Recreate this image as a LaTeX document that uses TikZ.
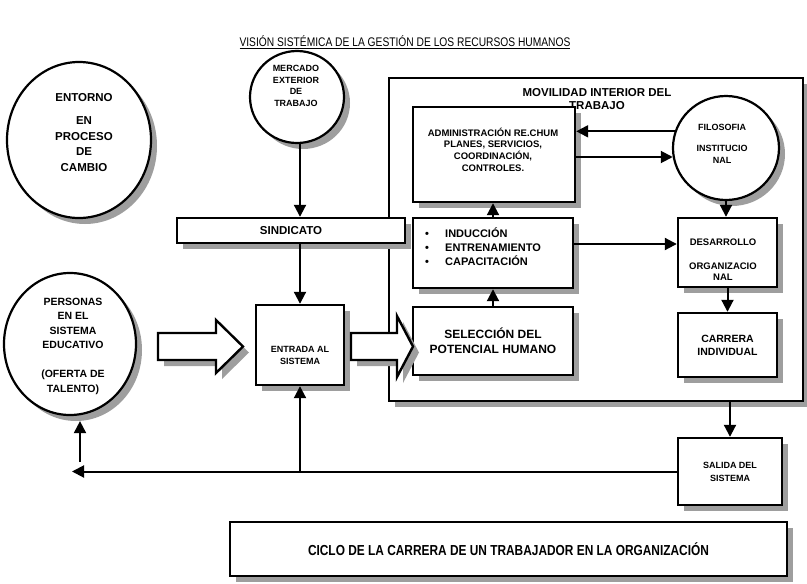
\documentclass[tikz,border=0pt]{standalone}
\usepackage{fontspec}
\setmainfont{Liberation Sans}
\newfontfamily\narrowfont{Liberation Sans}[FakeStretch=0.82]
\usetikzlibrary{arrows.meta,shapes.geometric}
\newcommand\fsz[2]{\fontsize{#1}{#2}\selectfont}
\tikzset{
  drop/.style={preaction={fill=black!38, transform canvas={xshift=6pt,yshift=-6pt}}},
  box/.style={draw, line width=2.4pt, fill=white, drop, inner sep=0pt, align=center},
  orb/.style={ellipse, draw, line width=2.2pt, fill=white, drop, inner sep=0pt},
  arr/.style={line width=2pt, -{Triangle[length=12pt,width=12pt]}},
  blockarrow/.style={draw, line width=2.4pt, fill=white, drop, line join=miter},
  txt/.style={align=center, inner sep=0pt},
}
\begin{document}
\begin{tikzpicture}[x=1pt,y=-1pt]
\useasboundingbox (0,0) rectangle (807,584);

% heading
\node[txt, font=\narrowfont\fsz{12.5}{14}] (title) at (405,42)
  {\underline{VISIÓN SISTÉMICA DE LA GESTIÓN DE LOS RECURSOS HUMANOS}};

% internal mobility frame
\node[box, minimum width=414pt, minimum height=323pt] (mov) at (596,239.5) {};
\node[txt, font=\bfseries\fsz{11.5}{12.5}] (movT) at (597,99) {MOVILIDAD INTERIOR DEL\\TRABAJO};

\node[box, minimum width=162pt, minimum height=95pt] (adm) at (494,154.5) {};
\node[txt, font=\bfseries\fsz{9.5}{11.7}] (admT) at (493,149.5)
  {ADMINISTRACIÓN RE.CHUM\\PLANES, SERVICIOS,\\COORDINACIÓN,\\CONTROLES.};

\node[box, minimum width=160pt, minimum height=70pt] (ind) at (493,253) {};
\node[txt, align=left, anchor=west, font=\bfseries\fsz{11}{14}] (indT) at (425,247)
  {\makebox[20pt][l]{\textbullet}INDUCCIÓN\\
   \makebox[20pt][l]{\textbullet}ENTRENAMIENTO\\
   \makebox[20pt][l]{\textbullet}CAPACITACIÓN};

\node[box, minimum width=160pt, minimum height=68pt, font=\bfseries\fsz{12}{15}] (sel) at (493,341)
  {SELECCIÓN DEL\\POTENCIAL HUMANO};

\node[orb, minimum width=106pt, minimum height=104pt] (filo) at (726,148) {};
\node[txt, font=\bfseries\fsz{9}{12}] (filoT) at (722,143.5) {FILOSOFIA\\[9pt]INSTITUCIO\\NAL};

\node[box, minimum width=99pt, minimum height=69pt] (des) at (727.5,252.5) {};
\node[txt, font=\bfseries\fsz{9.5}{11}] (desT) at (723,260) {DESARROLLO\\[13pt]ORGANIZACIO\\NAL};

\node[box, minimum width=99pt, minimum height=64pt, font=\bfseries\fsz{10.5}{13}] (car) at (727.5,345)
  {CARRERA\\INDIVIDUAL};

% surroundings
\node[orb, minimum width=144pt, minimum height=156pt] (env) at (79,140) {};
\node[txt, font=\bfseries\fsz{11.5}{15.5}] (envT) at (84,132.5) {ENTORNO\\[7.5pt]EN\\PROCESO\\DE\\CAMBIO};

\node[orb, minimum width=94pt, minimum height=92pt] (merc) at (297,97) {};
\node[txt, font=\bfseries\fsz{9}{11.5}] (mercT) at (296,86) {MERCADO\\EXTERIOR\\DE\\TRABAJO};

\node[box, minimum width=228pt, minimum height=25pt, font=\bfseries\fsz{11.5}{13}] (sind) at (291,230.5) {SINDICATO};

\node[orb, minimum width=132pt, minimum height=142pt] (pers) at (70,344) {};
\node[txt, font=\bfseries\fsz{10.5}{14.5}] (persT) at (73,346)
  {PERSONAS\\EN EL\\SISTEMA\\EDUCATIVO\\[14.5pt](OFERTA DE\\TALENTO)};

\node[box, minimum width=88pt, minimum height=80pt] (ent) at (300,345) {};
\node[txt, font=\bfseries\fsz{9}{12}] (entT) at (300,355) {ENTRADA AL\\SISTEMA};

\node[box, minimum width=104pt, minimum height=67pt, font=\bfseries\fsz{9}{13}] (sal) at (730,471.5)
  {SALIDA DEL\\SISTEMA};

\node[box, minimum width=557pt, minimum height=54pt, font=\narrowfont\bfseries\fsz{14.5}{16}] (cic) at (508.5,549)
  {CICLO DE LA CARRERA DE UN TRABAJADOR EN LA ORGANIZACIÓN};

% hollow block arrows
\path[blockarrow] (158,333) -- (216,333) -- (216,320) -- (243,346.5) -- (216,373)
  -- (216,360) -- (158,360) -- cycle;
\path[blockarrow] (351,333) -- (397,333) -- (397,316) -- (413,346.5) -- (397,377)
  -- (397,360) -- (351,360) -- cycle;

% connectors
\draw[arr] (merc.south -| ent.north) -- (sind.north -| ent.north);
\draw[arr] (sind.south -| ent.north) -- (ent.north);
\draw[arr] (filo.162) -- (filo.162 -| adm.east);
\draw[arr] ([yshift=-2.5pt]adm.east) -- ([yshift=-2.5pt]adm.east -| filo.190);
\draw[arr] (filo.south) -- (filo.south |- des.north);
\draw[arr] (ind.north) -- (ind.north |- adm.south);
\draw[arr] (sel.north) -- (ind.south);
\draw[arr] ([yshift=9pt]ind.east) -- ([yshift=9pt]ind.east -| des.west);
\draw[arr] (des.south) -- (car.north);
\draw[arr] (sal.north |- mov.south) -- (sal.north);

\coordinate (fbL) at (72,471.5);
\coordinate (upB) at (80,462);
\draw[arr] (sal.west) -- (fbL);
\draw[arr] (ent.south |- fbL) -- (ent.south);
\draw[arr] (upB) -- ([xshift=10pt,yshift=-5pt]pers.south);
\end{tikzpicture}
\end{document}
